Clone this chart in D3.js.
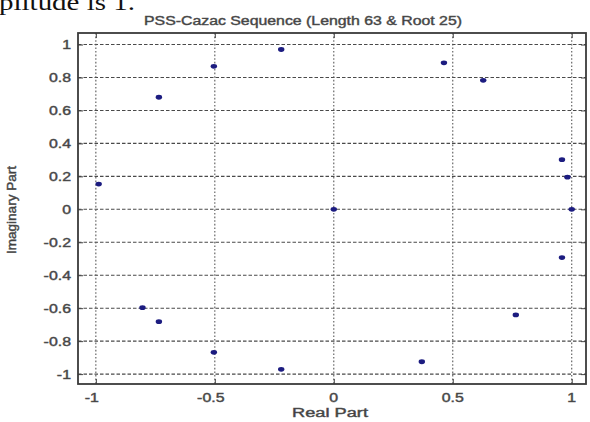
<!DOCTYPE html>
<html><head><meta charset="utf-8">
<script src="https://cdn.jsdelivr.net/npm/d3@7"></script>
<style>body{margin:0;background:#fff;} svg{display:block;}</style>
</head><body>
<svg id="c" width="590" height="422"></svg>
<script>
// Data
const realPart = [-0.988, -0.735, -0.504, -0.221, 0.000, 0.463, 0.628, 0.959, 0.982, 1.000, 0.959, 0.765, 0.370, -0.221, -0.504, -0.735, -0.804];
const imagPart = [ 0.153,  0.680,  0.868,  0.970, 0.000, 0.889, 0.783, 0.301, 0.195, 0.000, -0.293, -0.641, -0.925, -0.971, -0.868, -0.682, -0.597];
const xTickValues = [-1, -0.5, 0, 0.5, 1];
const xTickLabels = ["-1", "-0.5", "0", "0.5", "1"];
const yTickValues = [-1, -0.8, -0.6, -0.4, -0.2, 0, 0.2, 0.4, 0.6, 0.8, 1];
const yTickLabels = ["-1", "-0.8", "-0.6", "-0.4", "-0.2", "0", "0.2", "0.4", "0.6", "0.8", "1"];
const titleText = "PSS-Cazac Sequence (Length 63 & Root 25)";
const xLabelText = "Real Part";
const yLabelText = "Imaginary Part";
const topText = "plitude is 1.";

const svg = d3.select("#c");
const L = 78, R = 586, T = 33, B = 384;
const x = d3.scaleLinear().domain([-1.075, 1.06]).range([L, R]);
const y = d3.scaleLinear().domain([-1.06, 1.07]).range([B, T]);
const stretch = 1.27;
const txtCol = "#3a3a3a";

function stretchText(sel, factor) {
  sel.each(function() {
    const len = this.getComputedTextLength();
    d3.select(this).attr("textLength", len * factor).attr("lengthAdjust", "spacingAndGlyphs");
  });
}
function heavy(sel) {
  sel.attr("stroke", "#555").attr("stroke-width", 0.45);
}

// top clipped document text
svg.append("text").attr("x", -1).attr("y", 9.5)
  .attr("font-family", "Liberation Serif").attr("font-size", 23).attr("fill", "#111")
  .attr("textLength", 136).attr("lengthAdjust", "spacingAndGlyphs").text(topText);

// grid
const grid = svg.append("g");
grid.selectAll("line.h").data(yTickValues).join("line")
  .attr("x1", L).attr("x2", R).attr("y1", d => y(d)).attr("y2", d => y(d))
  .attr("stroke", "#4a4a4a").attr("stroke-width", 1.1).attr("stroke-dasharray", "3.5,2");
grid.selectAll("line.v").data(xTickValues).join("line")
  .attr("y1", T).attr("y2", B).attr("x1", d => x(d)).attr("x2", d => x(d))
  .attr("stroke", "#5a5a5a").attr("stroke-width", 1.1).attr("stroke-dasharray", "1.6,2");

// axes (ticks inward, on all four sides)
const tl = 5;
svg.append("g").attr("transform", `translate(0,${B})`)
  .call(d3.axisBottom(x).tickValues(xTickValues).tickSize(-tl).tickFormat(""))
  .call(g => g.select(".domain").remove());
svg.append("g").attr("transform", `translate(0,${T})`)
  .call(d3.axisTop(x).tickValues(xTickValues).tickSize(-tl).tickFormat(""))
  .call(g => g.select(".domain").remove());
svg.append("g").attr("transform", `translate(${L},0)`)
  .call(d3.axisLeft(y).tickValues(yTickValues).tickSize(-tl).tickFormat(""))
  .call(g => g.select(".domain").remove());
svg.append("g").attr("transform", `translate(${R},0)`)
  .call(d3.axisRight(y).tickValues(yTickValues).tickSize(-tl).tickFormat(""))
  .call(g => g.select(".domain").remove());
svg.selectAll(".tick line").attr("stroke", "#444");

// frame
svg.append("rect").attr("x", L).attr("y", T).attr("width", R - L).attr("height", B - T)
  .attr("fill", "none").attr("stroke", "#3a3a3a").attr("stroke-width", 1.8);

// tick labels
svg.append("g").selectAll("text").data(xTickValues).join("text")
  .attr("x", (d) => x(d) + (d < 0 ? -4 : 0)).attr("y", 402)
  .attr("text-anchor", "middle").attr("font-family", "Liberation Sans").attr("font-size", 12.5)
  .attr("fill", txtCol).text((d, i) => xTickLabels[i]).call(stretchText, stretch).call(heavy);
svg.append("g").selectAll("text").data(yTickValues).join("text")
  .attr("x", 71).attr("y", d => y(d) + 4.5)
  .attr("text-anchor", "end").attr("font-family", "Liberation Sans").attr("font-size", 12.5)
  .attr("fill", txtCol).text((d, i) => yTickLabels[i]).call(stretchText, stretch).call(heavy);

// title and axis labels
svg.append("text").attr("x", 303).attr("y", 25).attr("text-anchor", "middle")
  .attr("font-family", "Liberation Sans").attr("font-size", 13).attr("fill", txtCol)
  .attr("textLength", 318).attr("lengthAdjust", "spacingAndGlyphs").text(titleText).call(heavy);
svg.append("text").attr("x", 330).attr("y", 417).attr("text-anchor", "middle")
  .attr("font-family", "Liberation Sans").attr("font-size", 12.5).attr("fill", txtCol)
  .attr("textLength", 76).attr("lengthAdjust", "spacingAndGlyphs").text(xLabelText).call(heavy);
svg.append("text").attr("transform", "translate(16,210) rotate(-90)").attr("text-anchor", "middle")
  .attr("font-family", "Liberation Sans").attr("font-size", 12).attr("fill", txtCol)
  .attr("textLength", 88).attr("lengthAdjust", "spacingAndGlyphs").text(yLabelText).call(heavy);

// points
const pts = realPart.map((r, i) => ({ re: r, im: imagPart[i] }));
svg.append("g").selectAll("ellipse").data(pts).join("ellipse")
  .attr("cx", d => x(d.re)).attr("cy", d => y(d.im))
  .attr("rx", 3.2).attr("ry", 2.4).attr("fill", "#1c1c80");
</script>
</body></html>
